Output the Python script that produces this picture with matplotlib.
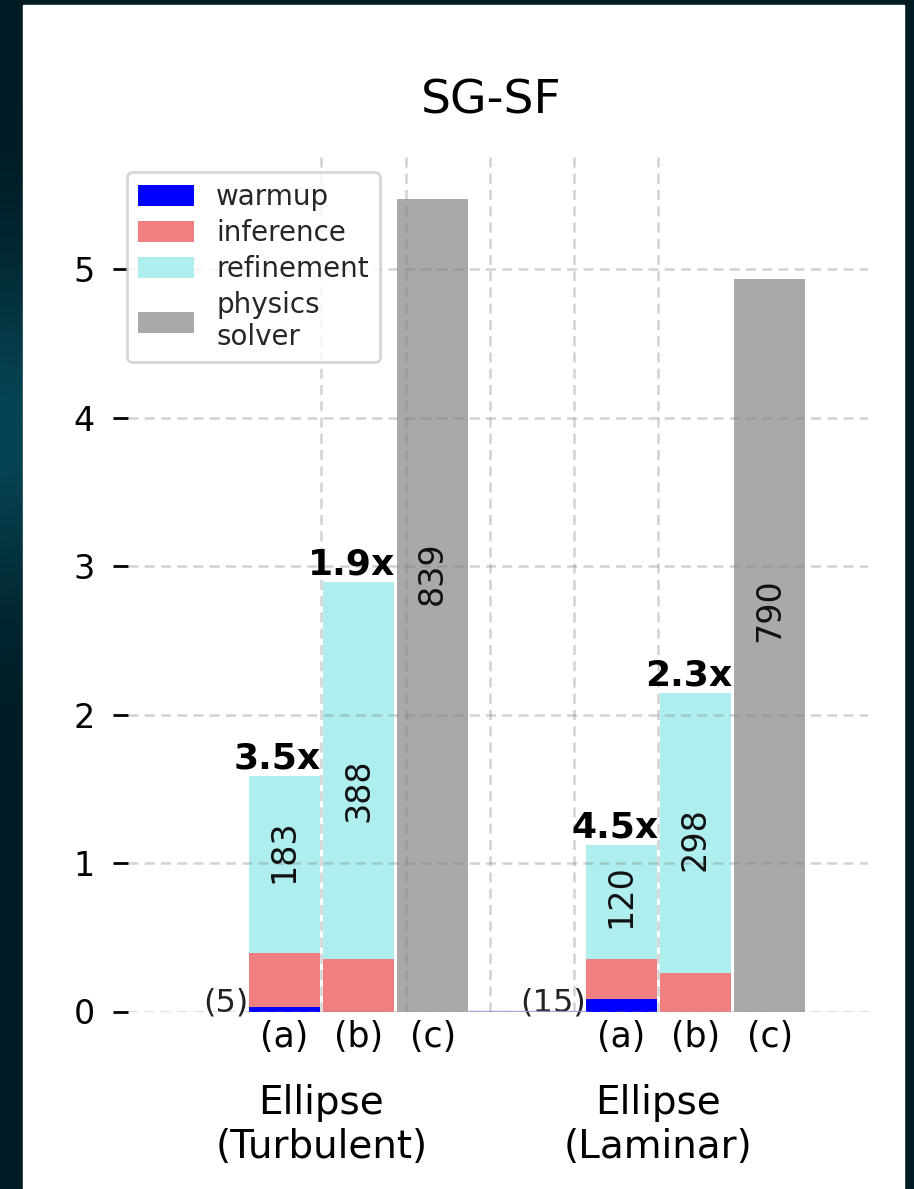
import numpy as np
import matplotlib.pyplot as plt
from matplotlib.patches import Rectangle

# two cases, three runs each: (a) warmup+inference+refinement, (b) inference+refinement, (c) physics solver
cases = ["Ellipse\n(Turbulent)", "Ellipse\n(Laminar)"]
runs = ["(a)", "(b)", "(c)"]

warmup = [0.03, 0.0, 0.0, 0.084, 0.0, 0.0]
inference = [0.364, 0.354, 0.0, 0.27, 0.259, 0.0]
refinement = [1.192, 2.54, 0.0, 0.77, 1.886, 0.0]
solver = [0.0, 0.0, 5.47, 0.0, 0.0, 4.935]

counts = [183, 388, 839, 120, 298, 790]
count_y = [1.08, 1.49, 2.95, 0.78, 1.16, 2.70]

speedup = [3.5, 1.9, 4.5, 2.3]   # for runs (a) and (b) of each case
warmup_steps = [5, 15]

colors = {"warmup": "blue", "inference": "lightcoral",
          "refinement": "paleturquoise", "solver": "darkgray"}

fig = plt.figure(figsize=(9.14, 11.89), dpi=100)

# dark backdrop with a teal glow on the left, white card on top
bg = fig.add_axes([0, 0, 1, 1], zorder=-10)
yy, xx = np.mgrid[0:1189, 0:914]
glow = np.exp(-((xx / 160.0) ** 2 + ((yy - 430) / 170.0) ** 2))
base = np.array([0, 27, 35]) / 255.0
teal = np.array([6, 68, 84]) / 255.0
img = base[None, None, :] * (1 - glow[..., None]) + teal[None, None, :] * glow[..., None]
bg.imshow(img, extent=(0, 914, 1189, 0), aspect="auto")
bg.add_patch(Rectangle((23, 5), 881, 1190, color="white"))
bg.set_xlim(0, 914)
bg.set_ylim(1189, 0)
bg.axis("off")

ax = fig.add_axes([128 / 914, 1 - 1011.5 / 1189, 740 / 914, 855.5 / 1189])

width = 0.21
offsets = np.array([-0.11, 0.11, 0.33])
x = np.concatenate([i + offsets for i in range(len(cases))])

w = np.array(warmup)
inf = np.array(inference)
ref = np.array(refinement)
sol = np.array(solver)

b1 = ax.bar(x, w, width, color=colors["warmup"])
b2 = ax.bar(x, inf, width, bottom=w, color=colors["inference"])
b3 = ax.bar(x, ref, width, bottom=w + inf, color=colors["refinement"])
b4 = ax.bar(x, sol, width, color=colors["solver"])
total = w + inf + ref + sol

# per-bar counts, written vertically
for xi, c, yc in zip(x, counts, count_y):
    ax.text(xi, yc, str(c), rotation=90, ha="center", va="center",
            fontsize=24, color="#111111")

# speedup over the solver, above (a) and (b)
k = 0
for i in range(len(cases)):
    for j in range(2):
        idx = i * 3 + j
        ax.text(x[idx] - 0.02, total[idx], f"{speedup[k]}x", ha="center",
                va="bottom", fontsize=26, fontweight="bold", color="black")
        k += 1

# number of warmup steps, left of run (a)
for i, n in enumerate(warmup_steps):
    ax.text(x[i * 3] - width / 2, 0, f"({n})", ha="right", va="baseline",
            fontsize=23, color="#222222")

# thin marker on the baseline between the two cases
ax.plot([x[2] + width / 2, x[3] - width / 2], [0, 0], color="#a098d8",
        alpha=0.85, lw=2.5, solid_capstyle="butt", zorder=3)

ax.set_xlim(-0.574, 1.622)
ax.set_ylim(0, 5.761)

ax.set_xticks([0, 0.25, 0.5, 0.75, 1.0])
ax.set_xticklabels([cases[0], "", "", "", cases[1]], fontsize=28)
ax.set_xticks(x, minor=True)
ax.set_xticklabels(runs * len(cases), minor=True, fontsize=25)
ax.tick_params(axis="x", which="major", length=0, pad=52)
ax.tick_params(axis="x", which="minor", length=0, pad=6)

ax.set_yticks(range(6))
ax.tick_params(axis="y", length=11, width=2, pad=13, labelsize=24)

for s in ax.spines.values():
    s.set_visible(False)

ax.set_axisbelow(False)
ax.grid(True, which="major", color="gray", alpha=0.35, lw=1.8,
        linestyle=(0, (4, 2.5)))

leg = ax.legend([b1, b2, b3, b4],
                ["warmup", "inference", "refinement", "physics\nsolver"],
                loc="upper left", bbox_to_anchor=(-0.001, 0.981),
                borderaxespad=0, fontsize=20, handlelength=2.0,
                handleheight=0.8, handletextpad=0.8, labelspacing=0.28,
                borderpad=0.4)
leg.get_frame().set_edgecolor("#cccccc")
leg.get_frame().set_linewidth(2)
for t in leg.get_texts():
    t.set_color("#262626")

fig.text(491 / 914, 1 - 113 / 1189, "SG-SF", ha="center", va="baseline",
         fontsize=34, color="black")

fig.savefig("out.png", dpi=100)
